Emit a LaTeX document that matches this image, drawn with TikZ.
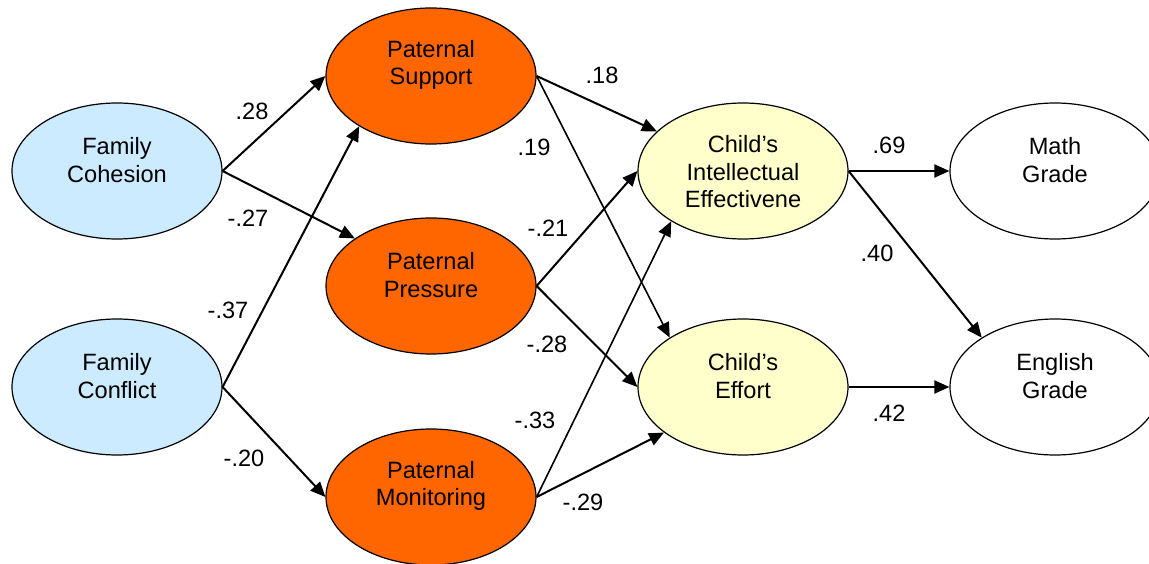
\documentclass[tikz,border=0pt]{standalone}
\usepackage{fontspec}
\setmainfont{Liberation Sans}
\usetikzlibrary{shapes.geometric,arrows.meta}
\definecolor{famblue}{HTML}{CCEBFF}
\definecolor{parorange}{HTML}{FF6600}
\definecolor{childyellow}{HTML}{FFFFCC}
\tikzset{
  x=1pt, y=-1pt,
  var/.style={ellipse, draw=black, line width=1.2pt, minimum width=210pt, minimum height=136pt, inner sep=0pt},
  fam/.style={var, fill=famblue},
  par/.style={var, fill=parorange},
  kid/.style={var, fill=childyellow},
  grade/.style={var, fill=white},
  txt/.style={align=center, font=\fontsize{23.6}{27.5}\selectfont, inner sep=0pt},
  coef/.style={font=\fontsize{23.6}{27.5}\selectfont, inner sep=0pt},
  path/.style={line width=2pt, -{Triangle[length=15pt,width=13pt]}},
  thinpath/.style={line width=1.6pt, -{Triangle[length=15pt,width=13pt]}}
}
\begin{document}
\begin{tikzpicture}
\useasboundingbox (0,0) rectangle (1149,564);

% latent variables
\node[fam]   (coh)  at (117,171) {};
\node[fam]   (conf) at (117,387) {};
\node[par]   (sup)  at (431,76)  {};
\node[par]   (pres) at (431,286) {};
\node[par]   (mon)  at (431,497) {};
\node[kid]   (int)  at (743,171) {};
\node[kid]   (eff)  at (743,387) {};
\node[grade] (math) at (1055,171) {};
\node[grade] (eng)  at (1055,387) {};

% variable names
\node[txt] (cohT)  at ([yshift=11pt]coh.center)  {Family\\Cohesion};
\node[txt] (confT) at ([yshift=11pt]conf.center) {Family\\Conflict};
\node[txt] (supT)  at ([yshift=11pt]sup.center)  {Paternal\\Support};
\node[txt] (presT) at ([yshift=11pt]pres.center) {Paternal\\Pressure};
\node[txt] (monT)  at ([yshift=11pt]mon.center)  {Paternal\\Monitoring};
\node[txt] (intT)  at ([yshift=-1pt]int.center)  {Child’s\\Intellectual\\Effectivene};
\node[txt] (effT)  at ([yshift=11pt]eff.center)  {Child’s\\Effort};
\node[txt] (mathT) at ([yshift=11pt]math.center) {Math\\Grade};
\node[txt] (engT)  at ([yshift=11pt]eng.center)  {English\\Grade};

% paths
\draw[path]     (coh.east)  -- (sup.west);
\draw[path]     (coh.east)  -- (pres.148);
\draw[path]     (conf.east) -- (sup.215);
\draw[path]     (conf.east) -- (mon.west);
\draw[path]     (sup.east)  -- (int);
\draw[thinpath] (sup.east)  -- (eff.146);
\draw[path]     (pres.east) -- (int.west);
\draw[path]     (pres.east) -- (eff.west);
\draw[thinpath] (mon.east)  -- (int.215);
\draw[path]     (mon.east)  -- (eff.210);
\draw[path]     (int.east)  -- (math.west);
\draw[path]     (int.east)  -- (eng.146);
\draw[path]     (eff.east)  -- (eng.west);

% path coefficients
\node[coef] (c1)  at (252,111) {.28};
\node[coef] (c2)  at (248,218) {-.27};
\node[coef] (c3)  at (228,310) {-.37};
\node[coef] (c4)  at (244,458) {-.20};
\node[coef] (c5)  at (602,75)  {.18};
\node[coef] (c6)  at (534,147) {.19};
\node[coef] (c7)  at (548,228) {-.21};
\node[coef] (c8)  at (547,344) {-.28};
\node[coef] (c9)  at (535,420) {-.33};
\node[coef] (c10) at (583,502) {-.29};
\node[coef] (c11) at (889,145) {.69};
\node[coef] (c12) at (877,253) {.40};
\node[coef] (c13) at (889,413) {.42};
\end{tikzpicture}
\end{document}
